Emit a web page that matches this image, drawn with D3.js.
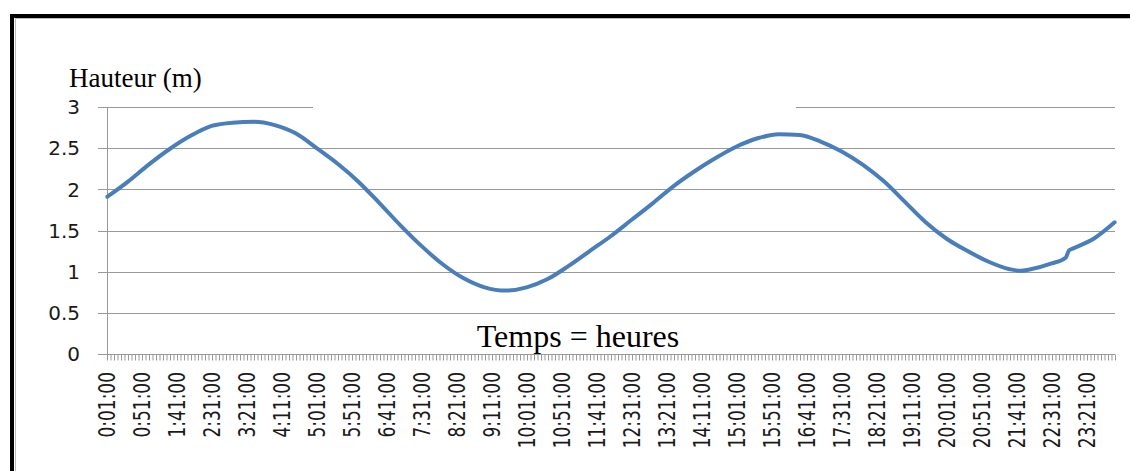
<!DOCTYPE html>
<html lang="fr">

<head>
    <meta charset="UTF-8">
    <script src="https://d3js.org/d3.v7.min.js"></script>
    <title>Hauteur de marée</title>
    <style>
        body { margin: 0; background: #fff; }
        svg text.tick-label { font-family: "DejaVu Sans", sans-serif; fill: #1a1a1a; }
        svg text.serif { font-family: "Liberation Serif", "Times New Roman", serif; fill: #000; }
    </style>
</head>

<body>
    <div id="chart"></div>

    <script>
        // Hauteur d'eau relevée aux heures indiquées
        var sampleTimes = ["0:01", "0:30", "1:00", "1:30", "2:00", "2:30", "3:00", "3:30", "4:00", "4:30",
            "5:00", "5:30", "6:00", "6:30", "7:00", "7:30", "8:00", "8:30", "9:00", "9:30",
            "10:00", "10:30", "11:00", "11:30", "12:00", "12:30", "13:00", "13:30", "14:00", "14:30",
            "15:00", "15:30", "16:00", "16:30", "17:00", "17:30", "18:00", "18:30", "19:00", "19:30",
            "20:00", "20:30", "21:00", "21:30", "21:45", "22:00", "22:30", "22:50", "22:55", "23:00", "23:30", "24:00"];
        var heights = [1.91, 2.09, 2.30, 2.49, 2.65, 2.77, 2.81, 2.82, 2.78, 2.68,
            2.50, 2.31, 2.09, 1.83, 1.56, 1.31, 1.09, 0.92, 0.81, 0.77,
            0.81, 0.91, 1.07, 1.25, 1.43, 1.63, 1.83, 2.04, 2.22, 2.38,
            2.52, 2.62, 2.67, 2.66, 2.58, 2.46, 2.30, 2.10, 1.85, 1.60,
            1.40, 1.25, 1.12, 1.03, 1.01, 1.03, 1.10, 1.17, 1.26, 1.28, 1.40, 1.60];

        // axe des catégories : une par minute, 0:01:00 -> 24:00:00
        var minuteCount = 1440;
        var labelMinutes = d3.range(1, minuteCount, 50);      // 0:01, 0:51, 1:41 ...
        var yTicks = [0, 0.5, 1, 1.5, 2, 2.5, 3];

        var width = 1130,
            height = 471,
            plotLeft = 107, plotRight = 1115,
            plotTop = 107, plotBottom = 354;

        function toMinutes(s) {
            var p = s.split(":");
            return +p[0] * 60 + +p[1];
        }
        function fmtMinute(m) {
            var h = Math.floor(m / 60), mm = m % 60;
            return h + ":" + (mm < 10 ? "0" : "") + mm + ":00";
        }

        var data = sampleTimes.map(function (t, i) {
            return { minute: toMinutes(t), value: heights[i] };
        });

        var svg = d3.select("#chart")
            .append("svg")
            .attr("width", width)
            .attr("height", height);

        // cadre
        svg.append("rect")
            .attr("x", 12).attr("y", 16)
            .attr("width", width + 20).attr("height", height + 20)
            .attr("fill", "none").attr("stroke", "#000").attr("stroke-width", 4);
        svg.append("path")
            .attr("d", "M15.5," + height + "V18.5H" + width)
            .attr("fill", "none").attr("stroke", "#bbb").attr("stroke-width", 1);

        var x = d3.scaleLinear()
            .domain([0.5, minuteCount + 0.5])
            .range([plotLeft, plotRight]);

        var y = d3.scaleLinear()
            .domain([0, 3])
            .range([plotBottom, plotTop]);

        // quadrillage horizontal
        svg.append("g")
            .selectAll("line")
            .data(yTicks)
            .enter()
            .append("line")
            .attr("x1", plotLeft - 9)
            .attr("x2", plotRight)
            .attr("y1", function (d) { return Math.round(y(d)) + 0.5; })
            .attr("y2", function (d) { return Math.round(y(d)) + 0.5; })
            .attr("stroke", "#999")
            .attr("stroke-width", 1);

        // zone de titre (masque le haut du quadrillage)
        svg.append("rect")
            .attr("x", 313).attr("y", 100)
            .attr("width", 483).attr("height", 14)
            .attr("fill", "#fff");

        // axe vertical
        svg.append("line")
            .attr("x1", plotLeft + 0.5).attr("x2", plotLeft + 0.5)
            .attr("y1", plotTop).attr("y2", plotBottom + 6)
            .attr("stroke", "#999");

        // étiquettes de l'axe Y
        svg.append("g")
            .selectAll("text")
            .data(yTicks)
            .enter()
            .append("text")
            .attr("class", "tick-label")
            .attr("x", 80)
            .attr("y", function (d) { return y(d); })
            .attr("dy", "0.36em")
            .attr("text-anchor", "end")
            .style("font-size", "20px")
            .text(function (d) { return d; });

        // petites graduations de l'axe X (toutes les 5 catégories)
        var xTickAxis = d3.axisBottom(x)
            .tickValues(d3.range(0.5, minuteCount + 1, 5))
            .tickSize(6)
            .tickFormat("");
        var gx = svg.append("g")
            .attr("transform", "translate(0," + (plotBottom + 0.5) + ")")
            .call(xTickAxis);
        gx.select(".domain").remove();
        gx.selectAll(".tick line").attr("stroke", "#999");

        // étiquettes des heures
        svg.append("g")
            .selectAll("text")
            .data(labelMinutes)
            .enter()
            .append("text")
            .attr("class", "tick-label")
            .attr("transform", function (d) {
                return "translate(" + x(d) + "," + (plotBottom + 18) + ") rotate(-90) scale(1,1.3)";
            })
            .attr("dy", "0.36em")
            .attr("text-anchor", "end")
            .style("font-size", "17px")
            .text(function (d) { return fmtMinute(d); });

        // courbe
        var line = d3.line()
            .x(function (d) { return x(d.minute); })
            .y(function (d) { return y(d.value); })
            .curve(d3.curveMonotoneX);

        svg.append("path")
            .datum(data)
            .attr("d", line)
            .attr("fill", "none")
            .attr("stroke", "#4a7ebb")
            .attr("stroke-width", 4)
            .attr("stroke-linejoin", "round")
            .attr("stroke-linecap", "round");

        // titres
        svg.append("text")
            .attr("class", "serif")
            .attr("x", 69)
            .attr("y", 87)
            .style("font-size", "27px")
            .text("Hauteur (m)");

        svg.append("text")
            .attr("class", "serif")
            .attr("x", 578)
            .attr("y", 347)
            .attr("text-anchor", "middle")
            .style("font-size", "32px")
            .text("Temps = heures");
    </script>
</body>

</html>
